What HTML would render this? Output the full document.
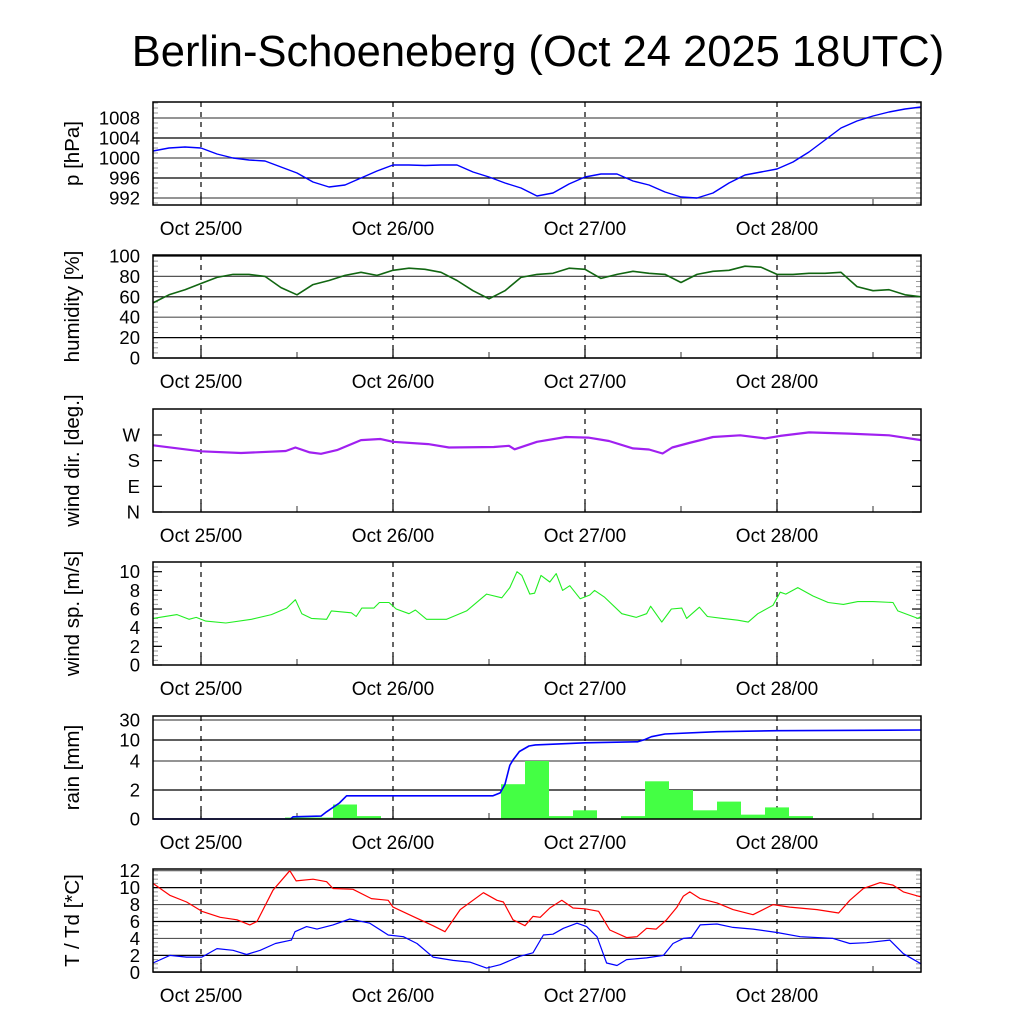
<!DOCTYPE html>
<html><head><meta charset="utf-8"><style>
html,body{margin:0;padding:0;background:#fff;}
svg{display:block;font-family:"Liberation Sans",Arial,sans-serif;}
</style></head><body>
<svg id="chart" width="1024" height="1024" viewBox="0 0 1024 1024" xmlns="http://www.w3.org/2000/svg">
<rect x="0" y="0" width="1024" height="1024" fill="#fff"/>
<text x="538" y="66" font-size="43.5" text-anchor="middle" fill="#000">Berlin-Schoeneberg (Oct 24 2025 18UTC)</text>
</svg>
<script>
// ---- data (hours since Oct 24 18UTC) ----
const dayTicks = [6, 30, 54, 78];
const dayLabels = ["Oct 25/00", "Oct 26/00", "Oct 27/00", "Oct 28/00"];
const halfDayTicks = [18, 42, 66, 90];

const presHours = [0,2,4,6,8,10,12,14,16,18,20,22,24,26,28,30,32,34,36,38,40,42,44,46,48,50,52,54,56,58,60,62,64,66,68,70,72,74,76,78,80,82,84,86,88,90,92,94,96];
const presValues = [1001.4,1002,1002.2,1002,1000.8,1000,999.6,999.4,998.2,997,995.2,994.2,994.6,996,997.4,998.6,998.6,998.5,998.6,998.6,997.2,996.2,995,994,992.4,993,994.8,996.2,996.8,996.8,995.4,994.6,993.2,992.2,992,993,995,996.6,997.2,997.8,999.2,1001.2,1003.6,1006,1007.4,1008.4,1009.2,1009.8,1010.2];
const presTicks = [992, 996, 1000, 1004, 1008];

const humHours = presHours;
const humValues = [54,62,67,73,79,82,82,80,69,62,72,76,81,84,81,86,88,87,84,76,66,58,66,79,82,83,88,87,78,82,85,83,82,74,82,85,86,90,89,82,82,83,83,84,70,66,67,62,60];
const humTicks = [0, 20, 40, 60, 80, 100];

const dirHours = [0,6,11,16.6,17.8,19.6,21,23,26,28.4,30,34.4,37,42.6,44.5,45.2,48,51.6,54.4,57,60,62,63.7,64.9,67,70,73.4,76.5,78.4,82,87,92,96];
const dirValues = [234,213,207,214,226,209,204,217,252,256,246,238,226,228,232,220,246,263,261,249,223,219,205,226,242,263,269,258,267,279,275,269,252];
const dirTicks = [0, 90, 180, 270];
const dirLabels = ["N", "E", "S", "W"];

const spdHours = [0,3,4.5,5.4,6.6,9.1,12.3,14.8,16.7,17.8,18.6,19.8,21.7,22.3,24.8,25.4,26.1,27.6,28.3,29.5,30.4,32,32.8,34.2,36.7,39.2,41.7,43.6,44.6,45.5,46.1,47.1,47.7,48.5,49.6,50.4,51.2,52.1,53.4,54.6,55.2,56.4,58.6,60.4,61.7,62.2,63.6,64.8,66.1,66.7,68.3,69.3,71.2,73.1,74.4,75.6,77.5,78.4,79.1,80.6,82.5,84.4,86.3,88.1,90,92.5,93.1,95.6,96];
const spdValues = [5.0,5.4,4.9,5.1,4.7,4.5,4.9,5.4,6.1,7.0,5.5,5.0,4.9,5.8,5.6,5.2,6.1,6.1,6.7,6.7,6.0,5.5,5.9,4.9,4.9,5.8,7.6,7.2,8.3,10.0,9.6,7.6,7.7,9.6,8.9,9.8,8.0,8.5,7.1,7.5,8.0,7.3,5.5,5.1,5.5,6.3,4.6,6.0,6.1,5.0,6.2,5.2,5.0,4.8,4.6,5.5,6.4,7.8,7.6,8.3,7.4,6.7,6.5,6.8,6.8,6.7,5.8,5.0,5.2];
const spdTicks = [0, 2, 4, 6, 8, 10];

const rainBinStart = [16.5,19.5,22.5,25.5,43.5,46.5,49.5,52.5,55.5,58.5,61.5,64.5,67.5,70.5,73.5,76.5,79.5,82.5,85.5,88.5,91.5,94.5];
const rainBinValues = [0.1,0.1,1.0,0.2,2.4,4.0,0.2,0.6,0.02,0.2,2.6,2.0,0.6,1.2,0.3,0.8,0.2,0.01,0.01,0.01,0.02,0.02];
const rainSumHours = [0,17.2,17.5,21,21.7,23.3,24.2,42.5,43.4,44,44.6,45,45.8,47,47.8,54,60.6,61.5,62.3,64,70.5,78,96];
const rainSumValues = [0,0,0.15,0.2,0.5,1.1,1.6,1.6,1.8,2.4,3.7,4.3,6.7,8.3,8.6,9.2,9.5,10.5,13.3,16,18.3,19.3,20];
const rainTicks = [0, 2, 4, 10, 30];

const tHours = [0,2.1,4.2,6.1,8.4,10.5,12.1,13,15,17.1,17.9,20,21.7,22.5,25,27.3,29.4,30,32.5,35,36.5,38.4,41.3,43,43.8,45,46.5,47.5,48.4,49.6,51.1,52.5,54,55.7,57.1,59.2,60.5,61.7,62.9,64.2,65.5,66.3,67.1,68.4,70.5,72.5,75,77.5,79.6,83,85.7,87.1,88.8,90.9,92.5,93.8,96];
const tValues = [10.5,9.1,8.3,7.2,6.5,6.2,5.6,6.0,9.7,12.0,10.8,11.0,10.7,9.9,9.8,8.7,8.5,7.7,6.6,5.5,4.8,7.4,9.4,8.5,8.3,6.2,5.5,6.6,6.5,7.6,8.5,7.6,7.5,7.2,5.0,4.1,4.2,5.2,5.1,6.2,7.7,9.0,9.5,8.7,8.2,7.4,6.8,8.0,7.7,7.4,7.0,8.5,9.9,10.6,10.3,9.5,8.9];
const tdHours = [0,2.1,4.2,6.1,8,10,11.7,13.4,15.3,17.3,17.75,19.2,20.5,22.5,24.6,27.1,29.4,31.3,33,35,37.5,39.6,41.7,43.4,45.9,47.5,48.8,50,51.3,53,54.2,55.5,56.7,58,59.2,61.7,63.8,65,66.3,67.3,68.4,70.5,72.5,75,78,80.9,85,87.1,89.2,92.1,93.8,96];
const tdValues = [1.1,2.0,1.8,1.8,2.8,2.6,2.1,2.6,3.4,3.8,4.8,5.4,5.1,5.6,6.3,5.8,4.4,4.2,3.4,1.8,1.4,1.2,0.5,0.9,1.9,2.3,4.4,4.5,5.2,5.8,5.4,4.2,1.1,0.8,1.5,1.7,2.0,3.4,4.0,4.1,5.6,5.7,5.3,5.1,4.7,4.2,4.0,3.4,3.5,3.8,2.2,1.0];
const tTicks = [0, 2, 4, 6, 8, 10, 12];

// ---- layout ----
const svg = document.getElementById('chart');
const NS = 'http://www.w3.org/2000/svg';
const X0 = 153, X1 = 921;
function xs(h){ return X0 + h * (X1 - X0) / 96; }
function mk(tag, attrs, parent){
  const e = document.createElementNS(NS, tag);
  for (const k in attrs) e.setAttribute(k, attrs[k]);
  (parent || svg).appendChild(e);
  return e;
}
function linScale(v0, y0, v1, y1){ return v => y0 + (v - v0) * (y1 - y0) / (v1 - v0); }
function pwScale(vals, ys){
  return v => {
    for (let i = 0; i < vals.length - 1; i++) {
      if (v <= vals[i+1] || i === vals.length - 2) {
        return ys[i] + (v - vals[i]) * (ys[i+1] - ys[i]) / (vals[i+1] - vals[i]);
      }
    }
  };
}

function panel(name, top, bottom, title, ys, ticks, labels, grid, minorStep, minorRange){
  const g = mk('g', {});
  
  
  if (minorStep) {
    for (let v = minorRange[0]; v <= minorRange[1] + 1e-9; v += minorStep) {
      const y = ys(v);
      if (y < top || y > bottom) continue;
      mk('line', {x1: X0, x2: X0 + 5, y1: y, y2: y, stroke: '#999', 'stroke-width': 1}, g);
      mk('line', {x1: X1 - 5, x2: X1, y1: y, y2: y, stroke: '#999', 'stroke-width': 1}, g);
    }
  }
  ticks.forEach((v, i) => {
    const y = ys(v);
    if (grid) {
      const gl = mk('line', {x1: X0, x2: X1, y1: y, y2: y, stroke: i % 2 ? '#000' : '#555', 'stroke-width': 1.2}, g);
      
      
    } else {
      mk('line', {x1: X0, x2: X0 + 9, y1: y, y2: y, stroke: '#000', 'stroke-width': 1.2}, g);
      mk('line', {x1: X1 - 9, x2: X1, y1: y, y2: y, stroke: '#000', 'stroke-width': 1.2}, g);
    }
    const t = mk('text', {x: X0 - 13, y: y + 6.5, 'font-size': 18.5, 'text-anchor': 'end', fill: '#000'}, g);
    t.textContent = labels ? labels[i] : String(v);
    
    
  });
  dayTicks.forEach(h => {
    mk('line', {x1: xs(h), x2: xs(h), y1: top, y2: bottom, stroke: '#000', 'stroke-width': 1.2, 'stroke-dasharray': '5,5'}, g);
    mk('line', {x1: xs(h), x2: xs(h), y1: bottom - 9, y2: bottom, stroke: '#000', 'stroke-width': 1.2}, g);
  });
  halfDayTicks.forEach(h => {
    mk('line', {x1: xs(h), x2: xs(h), y1: bottom - 6, y2: bottom, stroke: '#555', 'stroke-width': 1.2}, g);
  });
  dayLabels.forEach((s, i) => {
    const t = mk('text', {x: xs(dayTicks[i]), y: bottom + 30, 'font-size': 19, 'text-anchor': 'middle', fill: '#000'}, g);
    t.textContent = s;
    
    
  });
  const cy = (top + bottom) / 2;
  const tt = mk('text', {x: 0, y: 0, 'font-size': 20.5, 'text-anchor': 'middle', fill: '#000', transform: 'translate(79,' + cy + ') rotate(-90)'}, g);
  tt.textContent = title;
  
  
  return g;
}
function frame(top, bottom){
  const r = mk('rect', {x: X0, y: top, width: X1 - X0, height: bottom - top, fill: 'none', stroke: '#000', 'stroke-width': 1.5});
  
  
}
function series(name, hours, vals, ys, color, w){
  const d = hours.map((h, i) => (i ? 'L' : 'M') + xs(h).toFixed(1) + ',' + ys(vals[i]).toFixed(1)).join('');
  const p = mk('path', {d: d, fill: 'none', stroke: color, 'stroke-width': w, 'stroke-linejoin': 'round'});
  
  
}

const yP = linScale(992, 198, 1008, 118);
panel('pressure', 102, 205, 'p [hPa]', yP, presTicks, null, true, 1, [991, 1011]);
series('pressure-line', presHours, presValues, yP, '#0000ff', 1.4);
frame(102, 205);

const yH = linScale(0, 358, 100, 256);
panel('humidity', 255, 358, 'humidity [%]', yH, humTicks, null, true, 5, [0, 100]);
series('humidity-line', humHours, humValues, yH, '#116611', 1.6);
frame(255, 358);

const yD = linScale(0, 512, 270, 435);
panel('wind-dir', 409, 512, 'wind dir. [deg.]', yD, dirTicks, dirLabels, false, 0, null);
series('wind-dir-line', dirHours, dirValues, yD, '#a020f0', 2.2);
frame(409, 512);

const yS = linScale(0, 665, 10, 571.7);
panel('wind-speed', 562, 665, 'wind sp. [m/s]', yS, spdTicks, null, false, 0.5, [0, 10.5]);
series('wind-speed-line', spdHours, spdValues, yS, '#22ee22', 1.1);
frame(562, 665);

const yR = pwScale([0, 2, 4, 10, 30], [819, 790, 761, 740, 720]);
panel('rain', 716, 819, 'rain [mm]', yR, rainTicks, null, true, 0, null);
const rg = mk('g', {});


rainBinStart.forEach((h, i) => {
  const y = yR(rainBinValues[i]);
  const b = mk('rect', {x: xs(h), y: y, width: xs(Math.min(h + 3, 96)) - xs(h), height: Math.max(819 - y, 0), fill: '#44ff44'}, rg);
  
  
});
series('rain-sum-line', rainSumHours, rainSumValues, yR, '#0000ff', 1.6);
frame(716, 819);

const yT = linScale(0, 972.3, 12, 870.7);
panel('temperature', 869, 972, 'T / Td [*C]', yT, tTicks, null, true, 0.5, [0, 12]);
series('temperature-line', tHours, tValues, yT, '#ff0000', 1.2);
series('dewpoint-line', tdHours, tdValues, yT, '#0000ff', 1.2);
frame(869, 972);
</script>
</body></html>
